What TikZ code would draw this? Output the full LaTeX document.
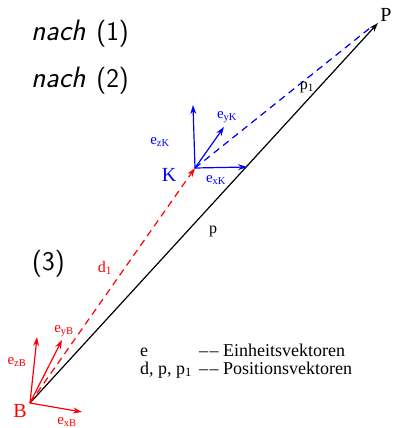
\documentclass[tikz,border=0pt]{standalone}
\usepackage{fontspec}
\newfontfamily\tms{Liberation Serif}
\usetikzlibrary{arrows.meta, positioning}

\newcommand{\dashdash}{\textendash\kern1.5pt\textendash}

\begin{document}
\begin{tikzpicture}[
      x=1pt, y=-1pt,
      vec/.style={-{Stealth[length=9pt, width=6pt]}, line width=1.2pt},
      posvec/.style={vec, dash pattern=on 7pt off 5pt},
      unitlbl/.style={font=\tms\fontsize{15}{17}\selectfont, inner sep=0pt},
      poslbl/.style={font=\tms\fontsize{16}{18}\selectfont, inner sep=0pt},
      framelbl/.style={font=\tms\fontsize{20}{22}\selectfont, inner sep=0pt},
      legend/.style={font=\tms\fontsize{18}{20}\selectfont, inner sep=0pt, anchor=base west},
      step text/.style={font=\sffamily\fontsize{27}{30}\selectfont, inner sep=0pt, anchor=base west}
    ]
      \useasboundingbox (0,0) rectangle (394,428);

      % origins
      \coordinate (B) at (30,403);
      \coordinate (K) at (195,168);
      \coordinate (P) at (378,23);
      \coordinate (Pend) at (370,28);
      \coordinate (zB) at (37,337);
      \coordinate (yB) at (62,340);
      \coordinate (xB) at (82,412);
      \coordinate (zK) at (193,105);
      \coordinate (yK) at (224,127);
      \coordinate (xK) at (247,167);

      % steps
      \node[step text] (s1) at (31,41) {{\fontsize{29.5}{30}\selectfont\itshape nach}\hspace{11pt}(1)};
      \node[step text] (s2) at (31,87) {{\fontsize{29.5}{30}\selectfont\itshape nach}\hspace{11pt}(2)};
      \node[step text] (s3) at (32,270) {(3)};

      % position vectors
      \draw[vec, black] (B) -- (P);
      \draw[posvec, red] (B) -- (K);
      \draw[posvec, blue, -] (K) -- (Pend);

      % unit vectors
      \draw[vec, red] (B) -- (zB);
      \draw[vec, red] (B) -- (yB);
      \draw[vec, red] (B) -- (xB);
      \draw[vec, blue] (K) -- (zK);
      \draw[vec, blue] (K) -- (yK);
      \draw[vec, blue] (K) -- (xK);

      % labels
      \node[framelbl, red] (lB) at (20,411) {B};
      \node[framelbl, blue] (lK) at (169,175) {K};
      \node[framelbl] (lP) at (386,15) {P};
      \node[unitlbl, red] (lzB) at (17,362) {e\textsubscript{zB}};
      \node[unitlbl, red] (lyB) at (64,331) {e\textsubscript{yB}};
      \node[unitlbl, red] (lxB) at (67,422) {e\textsubscript{xB}};
      \node[unitlbl, blue] (lzK) at (160,142) {e\textsubscript{zK}};
      \node[unitlbl, blue] (lyK) at (227,117) {e\textsubscript{yK}};
      \node[unitlbl, blue] (lxK) at (216,180) {e\textsubscript{xK}};
      \node[poslbl, red] (ld) at (105,268) {d\textsubscript{1}};
      \node[poslbl] (lp) at (213,231) {p};
      \node[poslbl] (lp1) at (307,87) {p\textsubscript{1}};

      % legend
      \node[legend] (e) at (140,356) {e};
      \node[legend] (en) at (199,356) {\dashdash{} Einheitsvektoren};
      \node[legend] (dpp) at (140,374) {d, p, p\textsubscript{1}};
      \node[legend] (pv) at (199,374) {\dashdash{} Positionsvektoren};
    \end{tikzpicture}
\end{document}
